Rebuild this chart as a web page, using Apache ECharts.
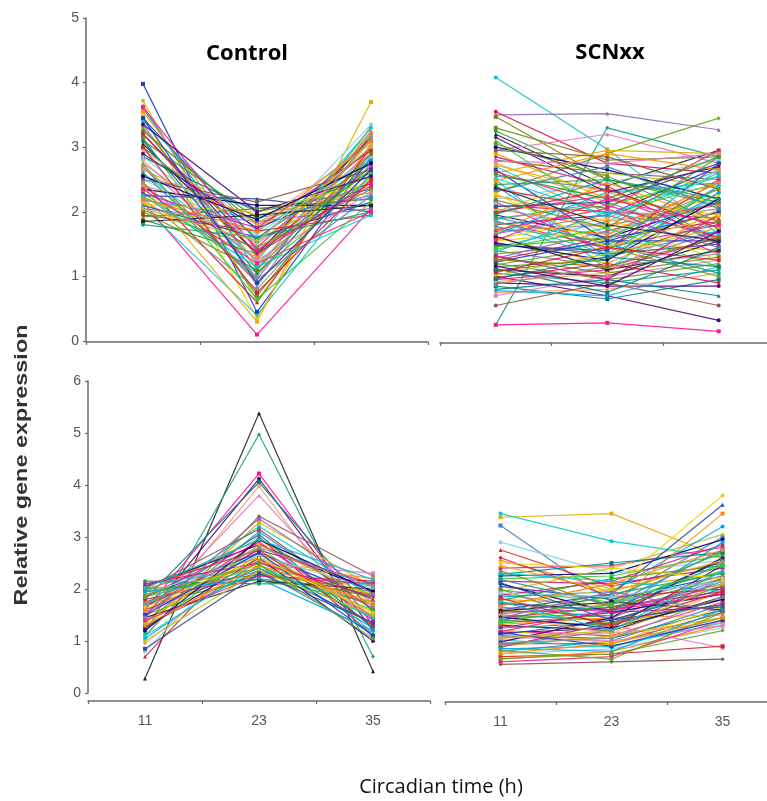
<!DOCTYPE html>
<html>
<head>
<meta charset="utf-8">
<script src="https://cdn.jsdelivr.net/npm/echarts@6/dist/echarts.min.js"></script>
<style>html,body{margin:0;padding:0;background:#fff;}#c{width:767px;height:801px;}</style>
</head>
<body>
<div id="c"></div>
<script>
// Circadian time points (h)
var timePoints = [11, 23, 35];
var xTickValues = [5, 17, 29, 41];
var yMaxTop = 5;
var yMaxBottom = 6;

// Top row, Control: [CT11, CT23, CT35]
var ctrlTop = [
[3.98,0.45,2.85],[3.72,0.62,3.05],[3.65,0.85,3.20],[3.60,1.10,3.30],[3.55,1.30,2.95],
[3.50,0.35,3.35],[3.45,1.55,3.10],[3.40,1.70,2.80],[3.35,0.95,3.25],[3.30,1.20,2.70],
[3.25,1.80,2.60],[3.20,1.45,3.00],[3.15,0.70,2.90],[3.10,1.90,2.55],[3.05,1.35,3.15],
[3.00,1.60,2.75],[2.15,0.10,2.05],[2.90,1.75,2.45],[2.85,2.00,2.35],[2.80,1.15,3.10],
[2.75,1.50,2.90],[2.70,0.90,2.65],[2.65,1.85,2.40],[2.60,1.25,3.30],[2.55,2.05,2.20],
[2.50,1.65,2.85],[2.45,0.60,3.00],[2.40,1.95,2.30],[2.38,1.40,2.70],[2.35,2.10,2.10],
[2.30,1.05,2.55],[2.28,1.75,2.95],[2.25,2.20,2.00],[2.22,1.55,2.50],[2.20,0.80,2.75],
[2.18,1.90,2.25],[2.15,1.30,3.20],[2.12,2.00,2.45],[2.10,1.60,2.15],[2.08,0.40,2.60],
[2.05,1.85,2.05],[2.02,1.45,2.35],[2.00,1.10,2.90],[1.95,1.70,1.95],[1.92,2.05,2.20],
[1.88,1.35,2.65],[1.85,1.95,2.10],[1.80,1.60,2.00],[3.62,1.40,2.40],[3.35,2.00,2.55],
[3.10,1.05,2.80],[2.95,1.80,3.05],[2.70,1.25,2.30],[2.50,2.15,2.65],[2.40,0.30,3.70],
[2.25,1.15,1.95],[2.60,0.95,2.25],[2.85,1.50,3.35],[3.00,0.75,2.50],[2.20,1.70,3.10],
[2.35,1.20,2.00],[2.55,1.88,2.75],[2.75,0.65,2.15],[3.20,1.35,2.45],[3.45,0.90,2.65],
[2.05,1.55,3.00],[2.45,1.00,3.15]
];

// Top row, SCNxx
var scnTop = [
[4.08,2.97,1.65],[3.50,3.52,3.27],[2.30,2.90,3.45],[3.47,2.50,1.55],[3.55,2.75,2.60],
[3.30,2.80,2.85],[3.25,2.50,2.10],[3.20,2.40,2.95],[0.25,3.30,2.85],[0.25,0.28,0.15],
[1.00,0.70,0.32],[0.85,0.65,0.95],[2.75,2.15,2.40],[2.95,3.20,2.75],[2.80,2.60,2.50],
[2.60,2.95,2.90],[2.50,1.10,2.30],[2.40,1.30,1.70],[2.20,2.45,2.80],[2.10,2.00,1.90],
[2.05,1.75,2.35],[2.00,2.25,1.60],[1.95,1.60,2.15],[1.90,2.10,2.55],[1.85,1.45,1.80],
[1.80,1.95,2.70],[1.75,1.55,1.40],[1.70,1.80,2.05],[1.65,2.30,2.45],[1.60,1.20,1.95],
[1.55,1.70,2.25],[1.50,1.35,1.50],[1.45,1.85,2.60],[1.40,1.15,1.70],[1.35,1.50,2.00],
[1.30,1.05,1.30],[1.25,1.60,1.85],[1.20,0.95,1.20],[1.15,1.25,2.40],[1.10,1.00,1.55],
[1.05,0.90,1.10],[0.95,1.10,1.60],[0.90,0.85,0.85],[0.80,0.95,0.70],[0.75,0.80,1.05],
[0.70,1.00,1.25],[0.55,0.90,0.55],[2.90,2.20,1.95],[2.70,1.90,2.65],[2.55,2.35,1.75],
[2.45,1.65,2.20],[2.35,2.05,2.95],[2.25,1.85,2.10],[2.15,1.40,2.50],[3.00,2.65,2.20],
[3.10,1.95,2.45],[2.85,2.40,1.50],[2.65,1.55,2.00],[2.00,2.60,2.40],[1.88,2.15,1.55],
[1.78,1.30,2.30],[1.68,2.45,1.85],[1.58,1.90,1.25],[1.48,1.40,2.75],[1.38,2.00,1.65],
[1.28,1.70,2.15],[1.18,1.45,1.00],[1.08,1.30,1.85],[0.98,1.20,0.90],[2.18,1.75,2.85],
[2.42,2.50,2.15],[1.62,1.10,1.40],[1.92,1.50,1.05],[2.62,2.10,1.60],[3.15,2.30,2.70],
[1.12,0.75,1.45],[0.92,1.05,2.05],[2.78,2.75,2.90],
[2.95,2.85,2.35],[2.72,2.30,1.85],[2.52,1.95,2.55],[2.32,2.70,2.05],[2.12,1.55,2.65],
[1.98,2.35,1.75],[1.82,1.65,2.45],[1.72,2.05,1.35],[1.52,1.25,2.20],[1.42,1.75,1.15],
[1.32,0.95,1.95],[1.22,1.55,1.55],[1.02,1.35,1.75],[0.88,1.15,1.35],[0.78,0.70,1.15],
[2.48,2.90,2.65],[2.28,1.45,1.95],[2.08,2.15,2.75],[1.86,1.35,2.40],[1.66,1.95,1.45],
[1.46,1.60,2.35],[1.26,1.15,1.60],[1.06,1.45,1.25],[3.05,2.55,1.85],[2.58,2.20,2.85],
[2.38,1.80,1.55],[1.96,2.50,2.20],[1.56,2.20,1.80],[1.16,0.85,1.70],[0.96,1.30,1.15]
];

// Bottom row, Control
var ctrlBottom = [
[0.28,5.38,0.42],[1.15,4.97,0.70],[1.60,4.22,1.30],[1.45,4.12,1.20],[1.80,4.05,1.55],
[1.30,3.98,1.05],[1.50,3.80,1.40],[1.10,3.40,2.25],[1.25,3.28,2.05],[1.70,3.20,1.85],
[1.35,3.10,1.60],[0.80,3.05,1.15],[0.70,3.00,1.10],[1.95,2.95,1.75],[1.55,2.90,1.45],
[2.05,2.85,1.95],[1.20,2.80,1.30],[1.65,2.75,2.10],[1.85,2.70,1.80],[1.40,2.65,1.50],
[2.00,2.60,1.65],[1.05,2.55,1.25],[1.75,2.50,2.20],[1.90,2.45,1.90],[1.60,2.40,1.35],
[2.10,2.38,2.05],[1.30,2.35,1.70],[1.50,2.30,1.95],[1.95,2.28,1.85],[1.80,2.25,2.15],
[1.70,2.20,1.90],[2.00,2.18,1.75],[1.45,2.15,2.00],[2.15,2.10,2.12],[1.85,2.90,1.40],
[1.25,2.60,1.00],[1.65,3.05,1.25],[0.95,2.70,1.55],[1.55,2.50,2.30],[2.00,3.15,1.60],
[1.35,2.85,1.85],[1.10,2.45,1.45],[1.75,2.35,1.15],[1.90,2.65,2.00],[2.05,2.75,1.30],
[1.60,2.55,1.70],[1.40,2.25,2.10],[1.20,2.95,1.95],[1.85,2.40,1.60],[2.10,2.50,1.85],
[1.50,2.70,1.10],[1.00,2.35,1.50],[1.70,2.80,2.05],[1.95,2.20,1.20],[1.30,2.45,1.75],
[1.65,2.60,1.55],[0.85,2.30,1.35],[2.02,2.95,2.18],[1.45,3.35,1.90],[1.88,2.48,1.05]
];

// Bottom row, SCNxx
var scnBottom = [
[0.55,0.60,0.65],[3.38,3.45,2.60],[3.45,2.92,2.60],[3.22,1.75,3.00],[2.90,2.30,2.55],
[2.75,2.05,2.50],[2.55,2.00,2.30],[2.40,2.45,2.80],[2.25,2.30,2.95],[2.20,2.25,2.65],
[2.15,2.10,2.40],[2.05,1.80,2.25],[1.95,2.40,3.05],[1.90,1.60,2.10],[1.85,1.95,3.20],
[1.80,1.70,3.45],[1.70,2.00,3.80],[1.60,1.90,3.62],[1.75,1.55,2.50],[1.65,1.45,2.20],
[1.55,1.85,2.70],[1.50,1.40,2.05],[1.45,1.65,1.95],[1.40,1.30,2.35],[1.35,1.50,2.60],
[1.30,1.20,1.85],[1.25,1.35,2.15],[1.20,1.10,1.75],[1.15,1.25,2.45],[1.10,1.05,1.60],
[1.05,1.15,1.95],[1.00,1.30,0.87],[0.95,0.95,1.55],[0.90,1.10,1.45],[0.85,0.90,1.35],
[0.80,1.00,1.70],[0.75,0.85,1.25],[0.70,0.75,0.90],[0.65,0.80,1.30],[0.60,0.70,1.40],
[2.10,1.55,1.90],[1.98,1.75,2.35],[1.88,2.15,2.85],[1.72,1.60,2.55],[1.62,1.35,1.70],
[1.52,1.70,2.25],[1.42,1.55,2.90],[1.32,1.45,1.50],[1.22,0.95,1.65],[1.12,1.40,2.00],
[1.02,0.88,1.45],[0.92,1.20,2.20],[0.82,0.65,1.55],[2.35,1.65,2.20],[2.60,1.85,2.00],
[2.00,1.25,1.80],[1.78,2.20,2.45],[1.58,1.75,1.60],[1.38,1.90,2.30],[1.18,1.60,1.90],
[0.98,1.45,2.60],[2.28,2.50,2.70],[1.48,1.15,1.35],[1.08,1.00,1.30],[0.88,1.35,1.80],
[2.45,1.95,2.55],[2.30,2.15,1.95],[2.18,1.70,2.75],[1.92,1.85,2.15],[1.82,1.30,1.95],
[1.68,2.10,2.75],[1.56,1.60,2.05],[1.46,1.25,1.80],[1.36,1.70,2.45],[1.26,1.55,1.65],
[1.16,0.90,1.40],[1.06,1.20,2.10],[0.96,1.05,1.85],[0.86,0.80,1.60],[0.76,0.95,1.45],
[2.50,2.40,2.20],[2.12,1.40,1.70],[1.76,1.20,2.35],[1.44,1.95,1.55],[0.66,0.75,1.20]
];

var palette = ['#1f3fbf','#2ca02c','#d62728','#17becf','#e377c2','#bcbd22','#222222','#ff7f0e',
'#9467bd','#8c564b','#8f8f8f','#1a9e77','#e7298a','#66a61e','#e6ab02','#00a8e8','#ff1493',
'#000080','#808000','#00ced1','#ff8c00','#4b0082','#32cd32','#dc143c','#4682b4','#f0d000',
'#008080','#c71585','#6b8e23','#87ceeb','#2f4f9f','#f4a460'];
var syms = ['rect','circle','triangle','diamond','rect','circle'];

var axisColor = '#6a6a6a';
var labelFont = "'Liberation Sans Narrow','Liberation Sans',Arial,sans-serif";

var grids = [
  {left: 86, top: 18, width: 342, height: 323},
  {left: 440, top: 18, width: 327, height: 323},
  {left: 88, top: 381, width: 342, height: 312},
  {left: 445, top: 381, width: 322, height: 312}
];
var xMax = [41, 40.2, 41, 39.8];
var xOffsets = [1, 2, 8, 9];

var xAxes = grids.map(function (g, i) {
  return {
    type: 'value', gridIndex: i, min: 5, max: xMax[i],
    offset: xOffsets[i],
    axisLine: {show: true, onZero: false, lineStyle: {color: axisColor, width: 1.5}},
    axisTick: {show: true, length: 3, customValues: xTickValues, lineStyle: {color: axisColor, width: 1.2}},
    axisLabel: {show: i >= 2, customValues: timePoints, showMinLabel: true, showMaxLabel: true,
      color: '#555', fontSize: 14, fontFamily: labelFont, margin: 13},
    splitLine: {show: false}
  };
});
var yAxes = grids.map(function (g, i) {
  var mx = i < 2 ? yMaxTop : yMaxBottom;
  var showY = (i === 0 || i === 2);
  return {
    type: 'value', gridIndex: i, min: 0, max: mx, interval: 1, show: showY,
    axisLine: {show: true, lineStyle: {color: axisColor, width: 1.5}},
    axisTick: {show: true, length: 3, lineStyle: {color: axisColor, width: 1.2}},
    axisLabel: {color: '#555', fontSize: 14, fontFamily: labelFont, margin: 7},
    splitLine: {show: false}
  };
});

var series = [];
function addPanel(data, gi) {
  data.forEach(function (d, i) {
    series.push({
      type: 'line', xAxisIndex: gi, yAxisIndex: gi,
      data: d.map(function (v, k) { return [timePoints[k], v]; }),
      symbol: syms[(i + gi) % syms.length], symbolSize: 4, showAllSymbol: true,
      color: palette[(i * 5 + gi * 3) % palette.length],
      lineStyle: {width: 1.2, opacity: 0.9},
      silent: true, animation: false, z: 2
    });
  });
}
addPanel(ctrlTop, 0);
addPanel(scnTop, 1);
addPanel(ctrlBottom, 2);
addPanel(scnBottom, 3);

var chart = echarts.init(document.getElementById('c'), null, {renderer: 'canvas'});
chart.setOption({
  animation: false,
  backgroundColor: '#ffffff',
  grid: grids,
  xAxis: xAxes,
  yAxis: yAxes,
  series: series,
  graphic: [
    {type: 'text', x: 247, y: 54, style: {text: 'Control', font: "bold 22px 'Open Sans', 'Noto Sans', sans-serif", fill: '#000', textAlign: 'center', textVerticalAlign: 'middle'}, z: 10},
    {type: 'text', x: 610, y: 53, style: {text: 'SCNxx', font: "bold 22px 'Open Sans', 'Noto Sans', sans-serif", fill: '#000', textAlign: 'center', textVerticalAlign: 'middle'}, z: 10},
    {type: 'text', x: 22, y: 465, rotation: Math.PI / 2, scaleX: 1.3, style: {text: 'Relative gene expression', font: "bold 18px 'Liberation Sans', Arial, sans-serif", fill: '#333', textAlign: 'center', textVerticalAlign: 'middle'}, z: 10},
    {type: 'text', x: 441, y: 787, style: {text: 'Circadian time (h)', font: "20px 'Open Sans', 'Noto Sans', sans-serif", fill: '#111', textAlign: 'center', textVerticalAlign: 'middle'}, z: 10}
  ]
});
</script>
</body>
</html>
